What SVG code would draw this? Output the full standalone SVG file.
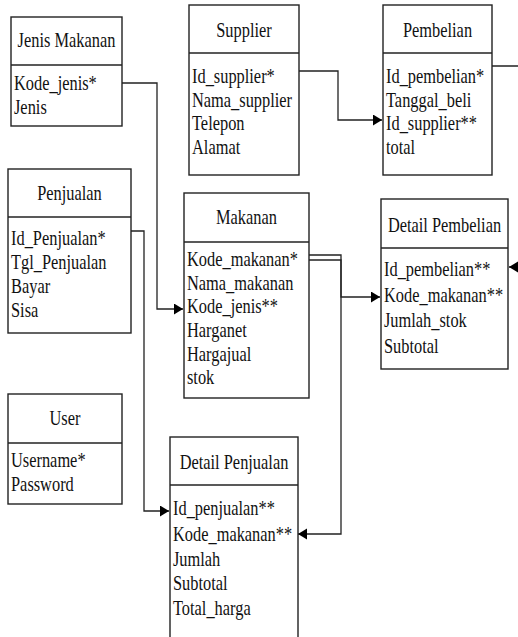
<svg xmlns="http://www.w3.org/2000/svg" width="518" height="637" viewBox="0 0 518 637">
<style>
  .box{fill:#fff;stroke:#222;stroke-width:1.4}
  .div{stroke:#222;stroke-width:1.4}
  .txt text{font-family:'Liberation Serif','DejaVu Serif',serif;font-size:21px;fill:#111}
  .t{text-anchor:middle}
  .con{fill:none;stroke:#222;stroke-width:1.3}
</style>
<defs>
  <marker id="arr" markerUnits="userSpaceOnUse" markerWidth="10" markerHeight="12" refX="9" refY="5.5" orient="auto">
    <path d="M0,0 L9,5.5 L0,11 Z" fill="#000"/>
  </marker>
</defs>
<rect width="518" height="637" fill="#fff"/>

<g id="connectors">
  <path class="con" d="M122,83 H157 V309 H183" marker-end="url(#arr)"/>
  <path class="con" d="M299,71 H338 V120 H382" marker-end="url(#arr)"/>
  <path class="con" d="M492,66 H530 V267 H509" marker-end="url(#arr)"/>
  <path class="con" d="M131,231 H144 V511 H169" marker-end="url(#arr)"/>
  <path class="con" d="M309,255 H341 V297 H380" marker-end="url(#arr)"/>
  <path class="con" d="M309,260 H341 V534 H298" marker-end="url(#arr)"/>
</g>

<g class="txt" font-family="Liberation Serif, DejaVu Serif, serif">
<g id="jenis-makanan">
  <rect class="box" x="11" y="17" width="111" height="109"/>
  <line class="div" x1="11" y1="65" x2="122" y2="65"/>
  <text class="t" transform="translate(66.5 47) scale(0.78 1)">Jenis Makanan</text>
  <text transform="translate(14 90) scale(0.78 1)">Kode_jenis*</text>
  <text transform="translate(14 114) scale(0.78 1)">Jenis</text>
</g>

<g id="supplier">
  <rect class="box" x="189" y="5" width="110" height="170"/>
  <line class="div" x1="189" y1="53" x2="299" y2="53"/>
  <text class="t" transform="translate(244 37) scale(0.78 1)">Supplier</text>
  <text transform="translate(192 83) scale(0.78 1)">Id_supplier*</text>
  <text transform="translate(192 107) scale(0.78 1)">Nama_supplier</text>
  <text transform="translate(192 130) scale(0.78 1)">Telepon</text>
  <text transform="translate(192 154) scale(0.78 1)">Alamat</text>
</g>

<g id="pembelian">
  <rect class="box" x="383" y="5" width="109" height="170"/>
  <line class="div" x1="383" y1="53" x2="492" y2="53"/>
  <text class="t" transform="translate(437.5 37) scale(0.78 1)">Pembelian</text>
  <text transform="translate(386 83) scale(0.78 1)">Id_pembelian*</text>
  <text transform="translate(386 107) scale(0.78 1)">Tanggal_beli</text>
  <text transform="translate(386 130) scale(0.78 1)">Id_supplier**</text>
  <text transform="translate(386 154) scale(0.78 1)">total</text>
</g>

<g id="penjualan">
  <rect class="box" x="8" y="169" width="123" height="164"/>
  <line class="div" x1="8" y1="217" x2="131" y2="217"/>
  <text class="t" transform="translate(69.5 200) scale(0.78 1)">Penjualan</text>
  <text transform="translate(11 245) scale(0.78 1)">Id_Penjualan*</text>
  <text transform="translate(11 269) scale(0.78 1)">Tgl_Penjualan</text>
  <text transform="translate(11 293) scale(0.78 1)">Bayar</text>
  <text transform="translate(11 317) scale(0.78 1)">Sisa</text>
</g>

<g id="makanan">
  <rect class="box" x="184" y="193" width="125" height="205"/>
  <line class="div" x1="184" y1="242" x2="309" y2="242"/>
  <text class="t" transform="translate(246.5 224) scale(0.78 1)">Makanan</text>
  <text transform="translate(187 266) scale(0.78 1)">Kode_makanan*</text>
  <text transform="translate(187 290) scale(0.78 1)">Nama_makanan</text>
  <text transform="translate(187 313) scale(0.78 1)">Kode_jenis**</text>
  <text transform="translate(187 337) scale(0.78 1)">Harganet</text>
  <text transform="translate(187 361) scale(0.78 1)">Hargajual</text>
  <text transform="translate(187 384) scale(0.78 1)">stok</text>
</g>

<g id="detail-pembelian">
  <rect class="box" x="381" y="199" width="127" height="170"/>
  <line class="div" x1="381" y1="248" x2="508" y2="248"/>
  <text class="t" transform="translate(444.5 232) scale(0.78 1)">Detail Pembelian</text>
  <text transform="translate(384 276) scale(0.78 1)">Id_pembelian**</text>
  <text transform="translate(384 302) scale(0.78 1)">Kode_makanan**</text>
  <text transform="translate(384 327) scale(0.78 1)">Jumlah_stok</text>
  <text transform="translate(384 353) scale(0.78 1)">Subtotal</text>
</g>

<g id="user">
  <rect class="box" x="8" y="394" width="114" height="110"/>
  <line class="div" x1="8" y1="443" x2="122" y2="443"/>
  <text class="t" transform="translate(65 425) scale(0.78 1)">User</text>
  <text transform="translate(11 467) scale(0.78 1)">Username*</text>
  <text transform="translate(11 491) scale(0.78 1)">Password</text>
</g>

<g id="detail-penjualan">
  <rect class="box" x="170" y="437" width="128" height="215"/>
  <line class="div" x1="170" y1="485" x2="298" y2="485"/>
  <text class="t" transform="translate(234 469) scale(0.78 1)">Detail Penjualan</text>
  <text transform="translate(173 515) scale(0.78 1)">Id_penjualan**</text>
  <text transform="translate(173 541) scale(0.78 1)">Kode_makanan**</text>
  <text transform="translate(173 566) scale(0.78 1)">Jumlah</text>
  <text transform="translate(173 590) scale(0.78 1)">Subtotal</text>
  <text transform="translate(173 615) scale(0.78 1)">Total_harga</text>
</g>
</g>
</svg>
